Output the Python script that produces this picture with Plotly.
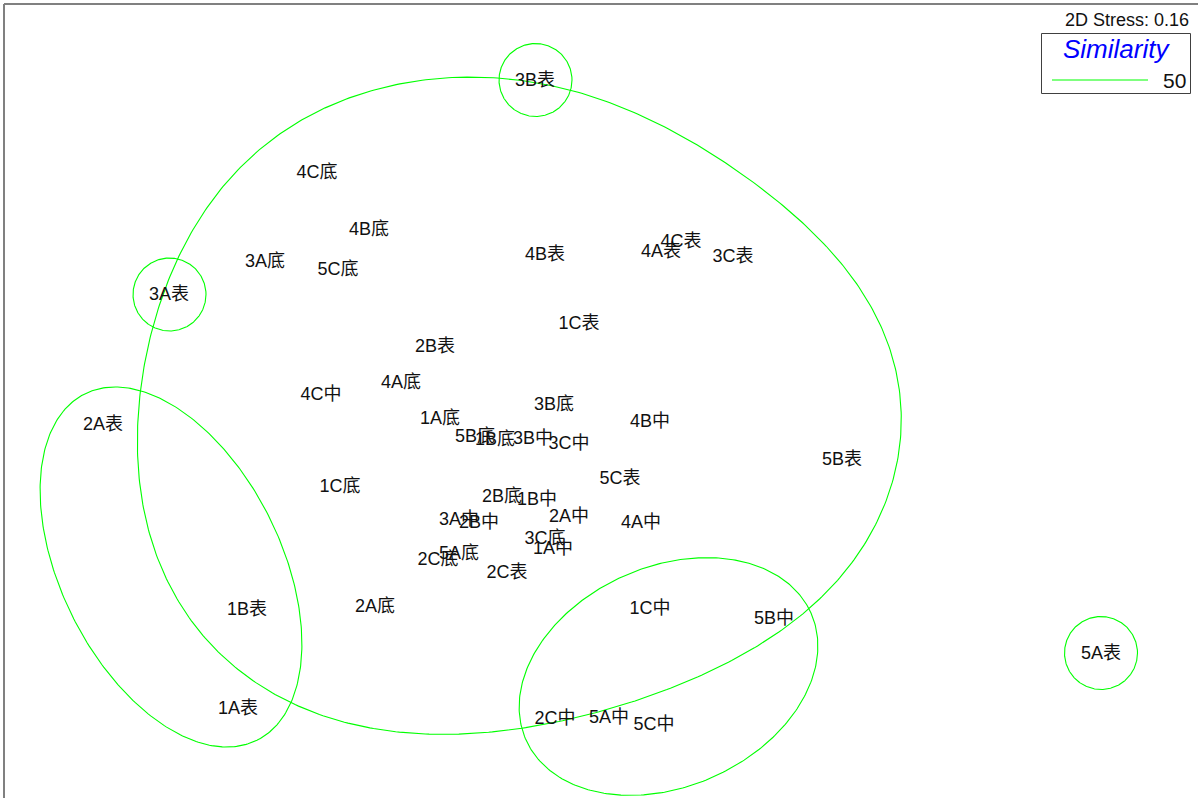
import numpy as np
import plotly.graph_objects as go

# ---- sample labels and their 2D nMDS positions (plot units) ----
labels = ["3B表", "4C底", "4B底", "3A底", "5C底", "4B表", "4C表", "4A表", "3C表",
          "3A表", "1C表", "2B表", "4C中", "4A底", "3B底", "1A底", "4B中", "5B底",
          "1B底", "3B中", "3C中", "5B表", "5C表", "1C底", "2B底", "1B中", "2A中",
          "4A中", "3A中", "2B中", "3C底", "1A中", "5A底", "2C底", "2C表", "2A表",
          "1B表", "2A底", "1C中", "5B中", "5A表", "1A表", "2C中", "5A中", "5C中"]
x_vals = [535, 317, 369, 265, 338, 545, 681, 661, 733,
          169, 579, 435, 321, 401, 554, 440, 650, 475,
          495, 533, 569, 842, 620, 340, 502, 537, 569,
          641, 459, 479, 545, 553, 459, 438, 507, 103,
          247, 375, 650, 774, 1101, 238, 555, 609, 654]
y_vals = [79, 171, 228, 260, 268, 253, 240, 250, 255,
          293, 322, 345, 393, 381, 403, 417, 420, 435,
          438, 437, 442, 458, 477, 485, 495, 498, 515,
          521, 518, 521, 537, 547, 552, 558, 571, 423,
          608, 605, 607, 617, 652, 707, 717, 716, 723]

# ---- similarity 50% contour enclosing the main group (outline) ----
big_cx = [467, 500, 567, 633, 680, 713, 747, 780, 813, 840, 867, 883, 897, 901, 898,
          890, 873, 847, 811, 763, 708, 648, 579, 519, 451, 395, 340, 290, 244, 212,
          188, 163, 147, 138, 142, 153, 168, 180, 200, 227, 257, 297, 343, 390]
big_cy = [78, 79, 90, 110, 133, 157, 178, 205, 233, 260, 297, 333, 373, 407, 443,
          493, 530, 567, 610, 640, 673, 697, 717, 728, 734, 732, 722, 702, 673, 647,
          613, 570, 533, 467, 390, 327, 280, 253, 217, 183, 153, 122, 100, 85]

# ---- elliptical 50% contours: centre, semi-axes and tilt (degrees) ----
ell_cx = [171, 668.5]
ell_cy = [567, 676.5]
ell_a = [193.4, 156.0]
ell_b = [110.2, 110.0]
ell_ang = [63.6, -24.0]

# single-sample groups drawn as circles: centre and radius
circ_x = [535.5, 169.5, 1101]
circ_y = [80, 294.5, 653]
circ_r = [36.5, 36.5, 36.5]

stress_text = "2D Stress: 0.16"
legend_title = "Similarity"
legend_value = "50"

GREEN = "#00FF00"
FONT = "Liberation Sans, Arial, Noto Sans CJK SC, sans-serif"
LABEL_BASELINE_NUDGE = 2  # px, visual alignment of text glyphs


def fourier_closed(px, py, K=6, n=600):
    P = np.column_stack([px, py]).astype(float)
    d = np.sqrt((np.diff(np.vstack([P, P[:1]]), axis=0) ** 2).sum(1))
    s = np.concatenate([[0], np.cumsum(d)[:-1]]) / d.sum()
    cols = [np.ones_like(s)]
    for k in range(1, K + 1):
        cols += [np.cos(2 * np.pi * k * s), np.sin(2 * np.pi * k * s)]
    A = np.column_stack(cols)
    cx, *_ = np.linalg.lstsq(A, P[:, 0], rcond=None)
    cy, *_ = np.linalg.lstsq(A, P[:, 1], rcond=None)
    t = np.linspace(0, 1, n)
    cols = [np.ones_like(t)]
    for k in range(1, K + 1):
        cols += [np.cos(2 * np.pi * k * t), np.sin(2 * np.pi * k * t)]
    B = np.column_stack(cols)
    return B @ cx, B @ cy


fig = go.Figure()
line_style = dict(color=GREEN, width=1.1)

sx, sy = fourier_closed(big_cx, big_cy)
fig.add_trace(go.Scatter(x=sx, y=sy, mode="lines", line=line_style,
                         hoverinfo="skip", showlegend=False))

theta = np.linspace(0, 2 * np.pi, 361)
for cx, cy, a, b, ang in zip(ell_cx, ell_cy, ell_a, ell_b, ell_ang):
    r = np.deg2rad(ang)
    ex = cx + a * np.cos(theta) * np.cos(r) - b * np.sin(theta) * np.sin(r)
    ey = cy + a * np.cos(theta) * np.sin(r) + b * np.sin(theta) * np.cos(r)
    fig.add_trace(go.Scatter(x=ex, y=ey, mode="lines", line=line_style,
                             hoverinfo="skip", showlegend=False))

for cx, cy, rad in zip(circ_x, circ_y, circ_r):
    fig.add_trace(go.Scatter(x=cx + rad * np.cos(theta), y=cy + rad * np.sin(theta),
                             mode="lines", line=line_style,
                             hoverinfo="skip", showlegend=False))

fig.add_trace(go.Scatter(x=x_vals, y=[v + LABEL_BASELINE_NUDGE for v in y_vals],
                         mode="text", text=labels,
                         textposition="middle center",
                         textfont=dict(family=FONT, size=18, color="#111111"),
                         showlegend=False, hoverinfo="text"))

shapes = [
    # frame (left and top edges)
    dict(type="line", xref="x", yref="y", x0=4, y0=4, x1=4, y1=798,
         line=dict(color="#808080", width=2)),
    dict(type="line", xref="x", yref="y", x0=4, y0=4, x1=1198, y1=4,
         line=dict(color="#808080", width=2)),
    # legend box
    dict(type="rect", xref="x", yref="y", x0=1041.5, y0=33.5, x1=1190.5, y1=93.5,
         line=dict(color="#404040", width=1), fillcolor="rgba(0,0,0,0)"),
    dict(type="line", xref="x", yref="y", x0=1052, y0=80, x1=1148, y1=80,
         line=dict(color=GREEN, width=1.2)),
]

annotations = [
    dict(x=1191, y=20, xref="x", yref="y", text=stress_text, showarrow=False,
         xanchor="right", yanchor="middle",
         font=dict(family=FONT, size=18, color="#111111")),
    dict(x=1116, y=49, xref="x", yref="y", text=legend_title, showarrow=False,
         xanchor="center", yanchor="middle",
         font=dict(family=FONT, size=26, color="#0000FF", style="italic")),
    dict(x=1188, y=80, xref="x", yref="y", text=legend_value, showarrow=False,
         xanchor="right", yanchor="middle",
         font=dict(family=FONT, size=21, color="#111111")),
]

fig.update_layout(
    width=1198, height=798,
    margin=dict(l=0, r=0, t=0, b=0),
    paper_bgcolor="white", plot_bgcolor="white",
    xaxis=dict(range=[0, 1198], visible=False, fixedrange=True),
    yaxis=dict(range=[798, 0], visible=False, fixedrange=True),
    shapes=shapes, annotations=annotations,
    showlegend=False,
)

fig.write_html("out.html")
